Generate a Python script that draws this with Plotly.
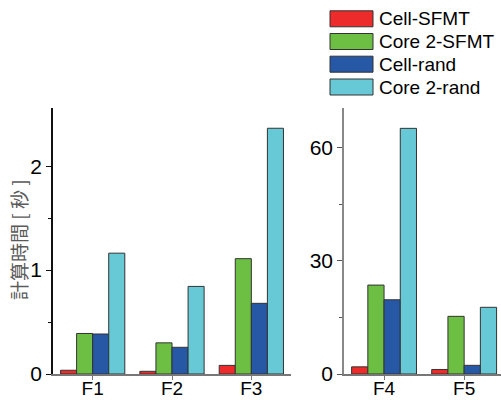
import plotly.graph_objects as go

series_names = ["Cell-SFMT", "Core 2-SFMT", "Cell-rand", "Core 2-rand"]
colors = ["#EE2B2B", "#6DBF44", "#2758A6", "#66C9D5"]

left_categories = ["F1", "F2", "F3"]
left_values = {
    "Cell-SFMT": [0.036, 0.026, 0.083],
    "Core 2-SFMT": [0.39, 0.30, 1.11],
    "Cell-rand": [0.385, 0.257, 0.68],
    "Core 2-rand": [1.163, 0.843, 2.365],
}

right_categories = ["F4", "F5"]
right_values = {
    "Cell-SFMT": [1.9, 1.2],
    "Core 2-SFMT": [23.6, 15.3],
    "Cell-rand": [19.7, 2.3],
    "Core 2-rand": [65.2, 17.7],
}

left_yticks = [0, 1, 2]
right_yticks = [0, 30, 60]
y_title = "計算時間 [ 秒 ]"

W, H = 501, 400
font_fam = "Liberation Sans, Arial, sans-serif"

fig = go.Figure()
for name, col in zip(series_names, colors):
    fig.add_trace(go.Bar(
        x=left_categories, y=left_values[name], name=name,
        marker=dict(color=col, line=dict(color="#333333", width=1)),
        xaxis="x", yaxis="y", showlegend=False, offsetgroup=name,
    ))
    fig.add_trace(go.Bar(
        x=right_categories, y=right_values[name], name=name,
        marker=dict(color=col, line=dict(color="#333333", width=1)),
        xaxis="x2", yaxis="y2", showlegend=False, offsetgroup=name,
    ))

y0, y1 = 26 / H, 292 / H

fig.update_layout(
    width=W, height=H,
    margin=dict(l=0, r=0, t=0, b=0, autoexpand=False),
    paper_bgcolor="white", plot_bgcolor="white",
    barmode="group", bargap=0.19, bargroupgap=0,
    showlegend=False,
    font=dict(family=font_fam, size=19, color="black"),
    xaxis=dict(
        domain=[53 / W, 291 / W], range=[-0.5, 2.5], automargin=False,
        showline=True, linecolor="#777777", linewidth=1.5,
        ticks="outside", ticklen=4, tickcolor="#777777",
        tickfont=dict(size=19), ticklabelstandoff=-8,
        anchor="y", fixedrange=True,
    ),
    yaxis=dict(
        domain=[y0, y1], range=[0, 2.56], automargin=False,
        tickvals=left_yticks, ticktext=[str(v) for v in left_yticks],
        showline=True, linecolor="#111111", linewidth=1.5,
        ticks="outside", ticklen=5, tickcolor="#111111",
        minor=dict(tickvals=[0.5, 1.5], ticks="outside", ticklen=3, tickcolor="#111111"),
        showgrid=False, zeroline=False, tickfont=dict(size=21),
        anchor="x",
    ),
    xaxis2=dict(
        domain=[344 / W, 1.0], range=[-0.5, 1.46], automargin=False,
        showline=True, linecolor="#777777", linewidth=1.5,
        ticks="outside", ticklen=4, tickcolor="#777777",
        tickfont=dict(size=19), ticklabelstandoff=-8,
        anchor="y2",
    ),
    yaxis2=dict(
        domain=[y0, y1], range=[0, 70.6], automargin=False,
        tickvals=right_yticks, ticktext=[str(v) for v in right_yticks],
        showline=True, linecolor="#888888", linewidth=1.5,
        ticks="outside", ticklen=5, tickcolor="#555555",
        minor=dict(tickvals=[15, 45], ticks="outside", ticklen=3, tickcolor="#555555"),
        showgrid=False, zeroline=False, tickfont=dict(size=21),
        anchor="x2",
    ),
)

# y-axis title
fig.add_annotation(xref="paper", yref="paper", x=18 / W, y=1 - 240 / H,
                   text=y_title, textangle=-90, showarrow=False,
                   xanchor="center", yanchor="middle",
                   font=dict(size=19, color="#5a5a5a",
                             family="Noto Sans CJK JP, sans-serif"))

# custom legend (boxes + labels)
row_centers = [18.8, 41.5, 64.2, 87.0]
for name, col, cy in zip(series_names, colors, row_centers):
    fig.add_shape(type="rect", xref="paper", yref="paper",
                  x0=330 / W, x1=373 / W,
                  y0=1 - (cy + 8) / H, y1=1 - (cy - 8) / H,
                  fillcolor=col, line=dict(color="#333333", width=1))
    fig.add_annotation(xref="paper", yref="paper", x=377 / W, y=1 - cy / H,
                       text=name, showarrow=False, xanchor="left", yanchor="middle",
                       font=dict(size=19, color="black", family=font_fam))

fig.write_html("out.html")
